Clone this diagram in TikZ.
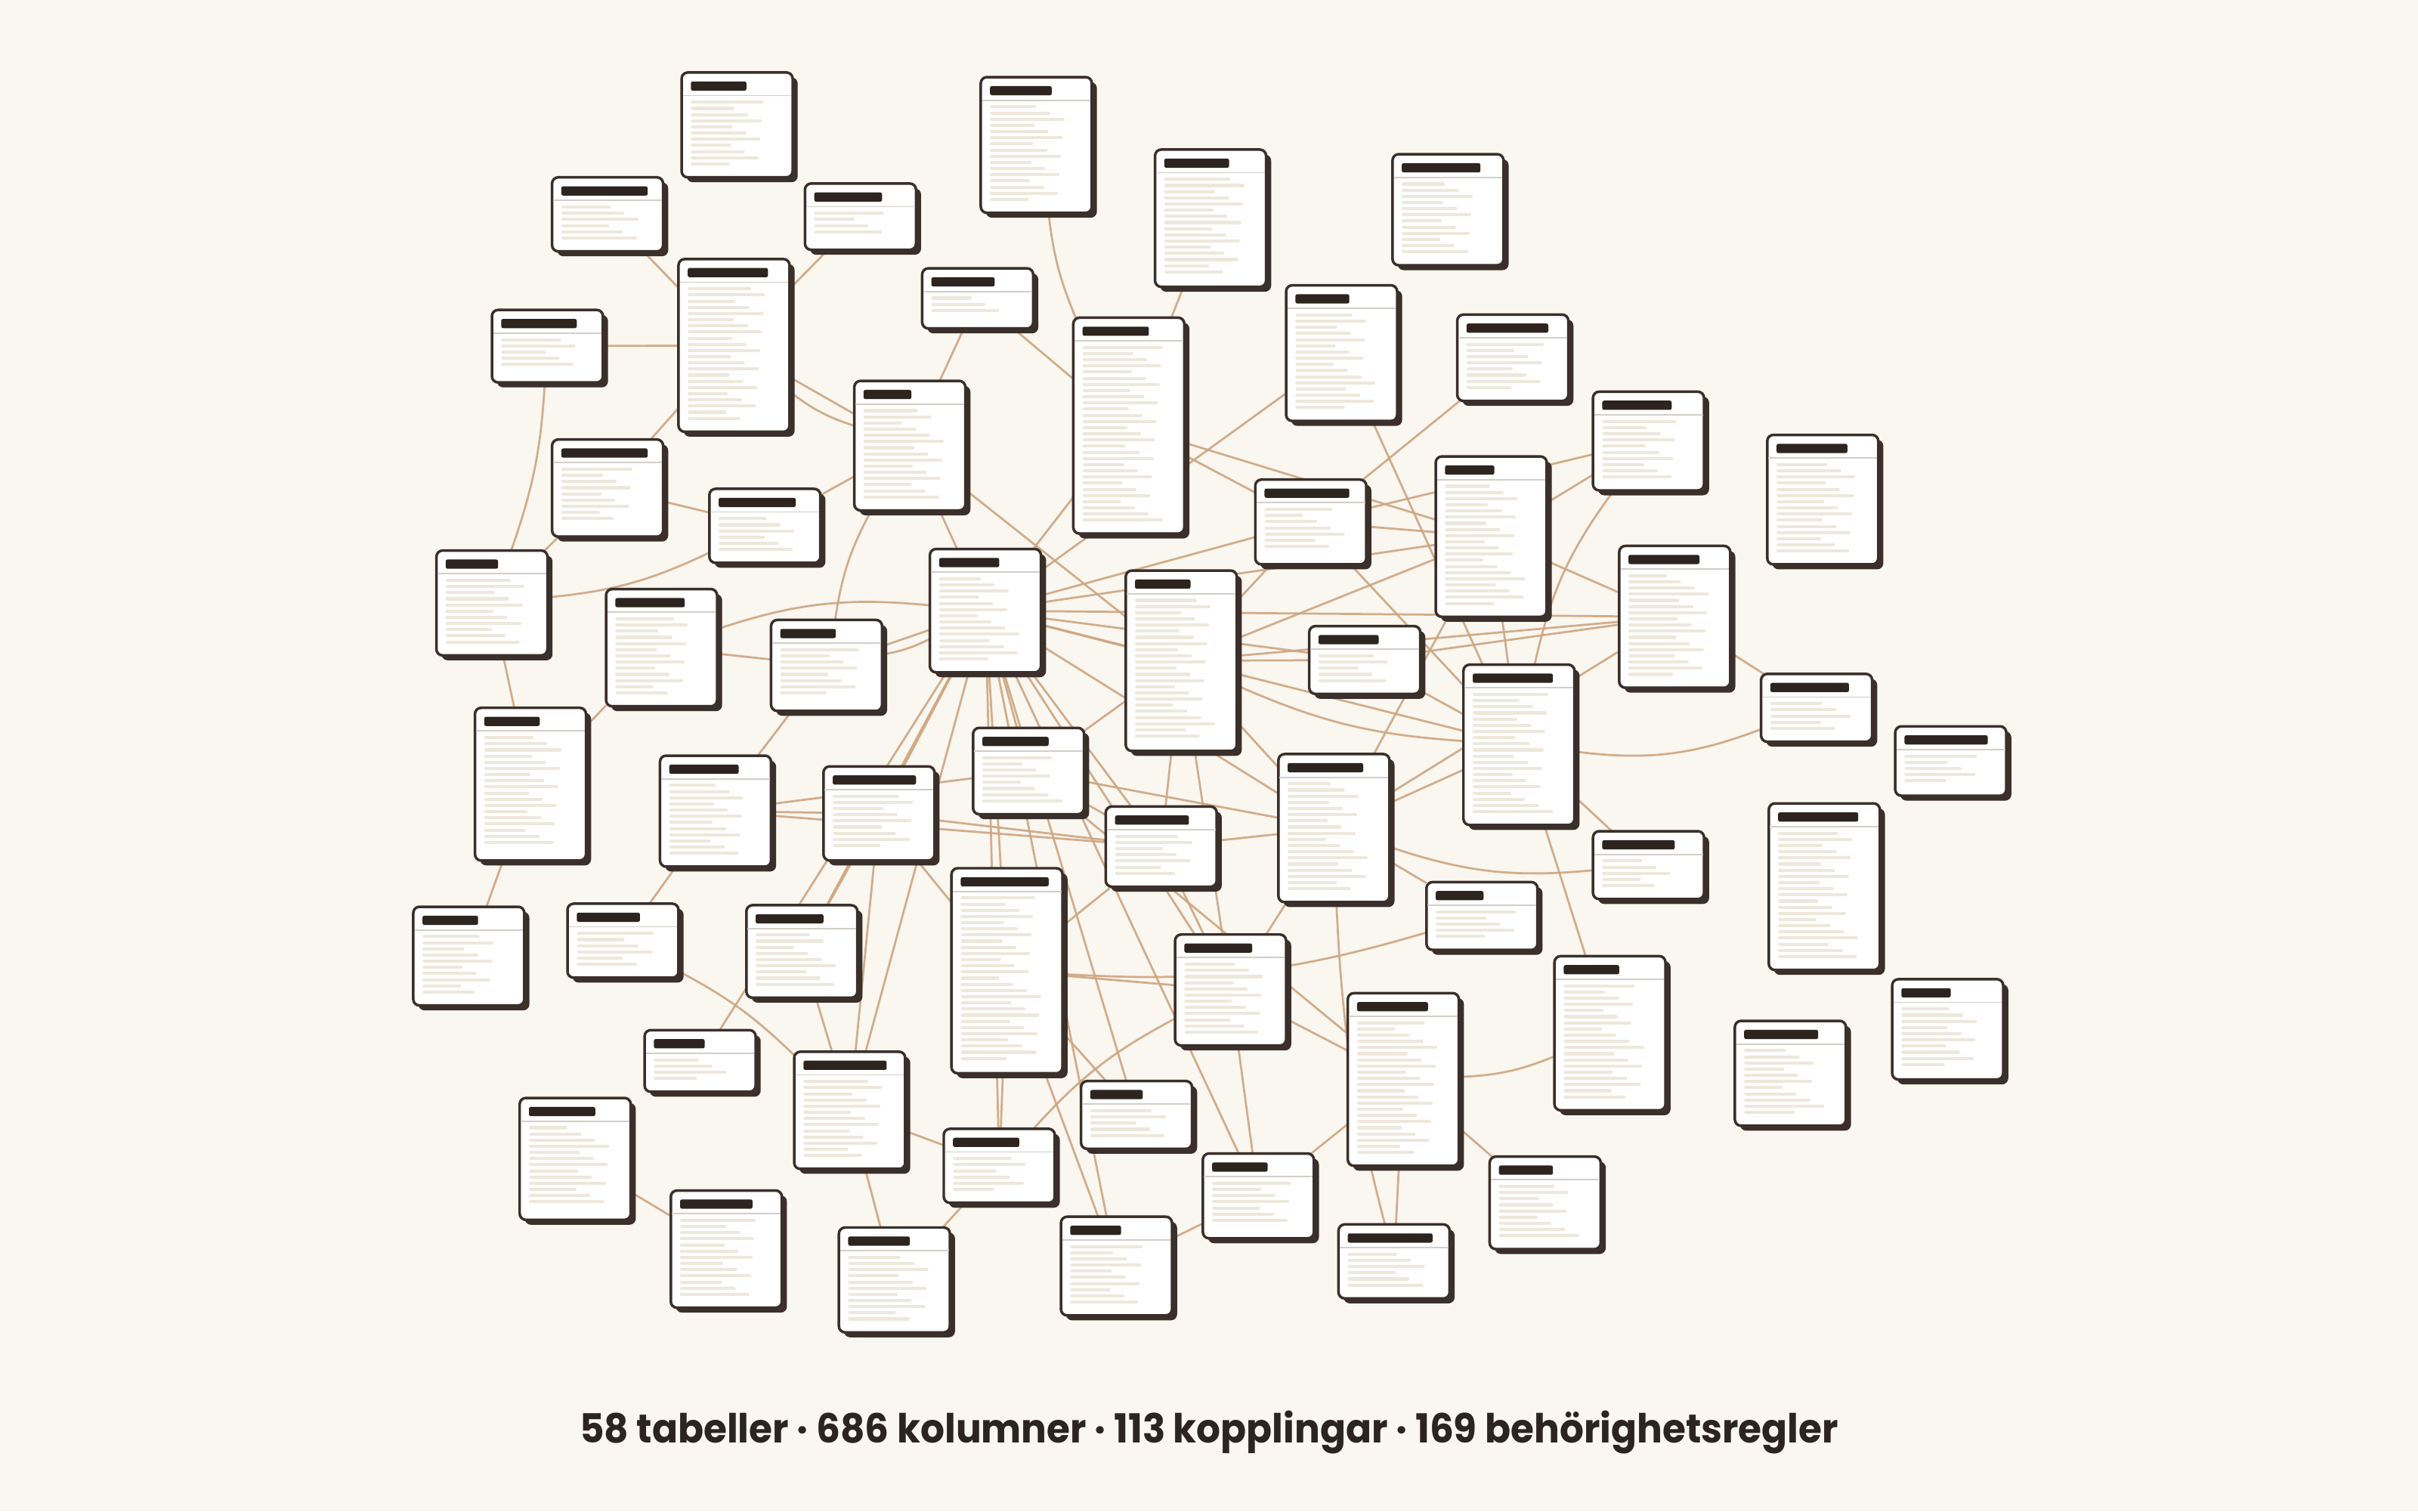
\documentclass[tikz,border=0pt]{standalone}
\usepackage{fontspec}
\newfontfamily\capfont{Poppins}
\pgfdeclarelayer{bglayer}
\pgfdeclarelayer{edgelayer}
\pgfsetlayers{bglayer,edgelayer,main}
\definecolor{bgc}{HTML}{FAF6F0}
\definecolor{ink}{HTML}{3A2F2A}
\definecolor{titlec}{HTML}{2D2420}
\definecolor{sepc}{HTML}{D3CEC8}
\definecolor{rowc}{HTML}{EEE7DC}
\definecolor{edgec}{HTML}{CDA680}
\definecolor{capc}{HTML}{2B2421}
\tikzset{
  cardbox/.style={draw=ink,fill=white,line width=1.7pt,rounded corners=4pt,
    minimum width=72pt,inner sep=0pt,outer sep=0pt,rectangle},
  shadowbox/.style={fill=ink,rounded corners=4pt},
  titlebar/.style={fill=titlec,rounded corners=1.2pt},
  sepline/.style={draw=sepc,line width=0.9pt},
  rowline/.style={draw=rowc,line width=2pt,line cap=round},
  edge/.style={draw=edgec,line width=1.35pt,draw opacity=0.9},
}
\newcommand\tcard[5]{%
  \fill[shadowbox] (#2+3.3,#3+3.2) rectangle (#2+75.3,#3+#4+3.2);
  \node[cardbox,minimum height=#4pt] (c#1) at (#2+36,#3+#4/2) {};
  \fill[titlebar] (#2+6,#3+5.8) rectangle (#2+6+#5,#3+11.8);
  \draw[sepline] (#2+0.8,#3+15) -- (#2+71.2,#3+15);
  \pgfmathtruncatemacro\nrows{floor((#4-27.3)/4)+1}%
  \foreach \i in {1,...,\nrows}{%
    \pgfmathsetmacro\len{23+mod(\i*37+#1*13,28)}%
    \draw[rowline] (#2+7,#3+15.3+\i*4) -- ++(\len,0);
  }%
}
\begin{document}
\begin{tikzpicture}[x=1pt,y=-1pt]
\begin{pgfonlayer}{bglayer}
\fill[bgc] (0,0) rectangle (1568,980);
\end{pgfonlayer}
\useasboundingbox (0,0) rectangle (1568,980);
\tcard{1}{442}{47}{68}{36}
\tcard{2}{358}{115}{48}{56}
\tcard{3}{522}{119}{43}{44}
\tcard{4}{636}{50}{88}{40}
\tcard{5}{749}{97}{89}{42}
\tcard{6}{903}{100}{72}{51}
\tcard{7}{440}{168}{112}{52}
\tcard{8}{598}{174}{39}{41}
\tcard{9}{319}{201}{47}{49}
\tcard{10}{696}{206}{140}{43}
\tcard{11}{834}{185}{88}{35}
\tcard{12}{945}{204}{56}{53}
\tcard{13}{554}{247}{84}{31}
\tcard{14}{1033}{254}{64}{45}
\tcard{15}{1146}{282}{84}{46}
\tcard{16}{358}{285}{63}{56}
\tcard{17}{460}{317}{48}{50}
\tcard{18}{814}{311}{55}{55}
\tcard{19}{931}{296}{104}{32}
\tcard{20}{283}{357}{68}{34}
\tcard{21}{603}{356}{80}{39}
\tcard{22}{730}{370}{117}{36}
\tcard{23}{1050}{354}{92}{46}
\tcard{24}{393}{382}{76}{45}
\tcard{25}{500}{402}{59}{36}
\tcard{26}{849}{406}{44}{39}
\tcard{27}{949}{431}{104}{52}
\tcard{28}{1142}{437}{44}{51}
\tcard{29}{1229}{471}{45}{54}
\tcard{30}{308}{459}{99}{36}
\tcard{31}{631}{472}{56}{43}
\tcard{32}{428}{490}{72}{45}
\tcard{33}{534}{497}{61}{54}
\tcard{34}{829}{489}{96}{49}
\tcard{35}{717}{523}{52}{48}
\tcard{36}{1033}{539}{44}{47}
\tcard{37}{1147}{521}{108}{52}
\tcard{38}{925}{572}{44}{31}
\tcard{39}{268}{588}{64}{36}
\tcard{40}{368}{586}{48}{41}
\tcard{41}{484}{587}{60}{44}
\tcard{42}{617}{563}{133}{57}
\tcard{43}{762}{606}{72}{44}
\tcard{44}{1008}{620}{100}{36}
\tcard{45}{1227}{635}{65}{32}
\tcard{46}{874}{644}{112}{46}
\tcard{47}{418}{668}{40}{33}
\tcard{48}{515}{682}{76}{54}
\tcard{49}{1125}{662}{68}{48}
\tcard{50}{701}{701}{44}{34}
\tcard{51}{337}{712}{79}{43}
\tcard{52}{612}{732}{48}{43}
\tcard{53}{780}{748}{55}{36}
\tcard{54}{966}{750}{60}{35}
\tcard{55}{435}{772}{76}{47}
\tcard{56}{544}{796}{68}{40}
\tcard{57}{688}{789}{64}{33}
\tcard{58}{868}{794}{48}{55}
\begin{pgfonlayer}{edgelayer}
\foreach \a/\b in {2/7,9/7,3/7,7/13,16/7,17/13,16/17,16/20,
  5/10,8/10,8/13,10/18,10/19,11/21,11/27,12/18,10/21,
  18/19,18/14,19/14,19/23,26/23,19/27,23/28,27/36,27/44,46/54,
  42/52,42/57,42/43,42/50,43/53,43/46,31/46,46/58,46/53,53/57,52/56,
  47/21,41/48,33/48,48/52,48/56,51/55,
  13/21,25/21,24/25,20/30,24/30,25/32,30/39,32/40,32/33,32/31,
  21/33,21/41,21/48,33/42,33/35,33/41,
  13/22,21/22,21/26,21/27,21/19,21/23,21/18,21/34,
  22/18,22/19,22/26,22/23,22/34,22/35,22/43,31/22,
  21/31,21/42,21/57,21/50,21/35,21/43,21/53,
  32/35,35/34,31/34,35/43,34/27,34/19,34/23,34/38,34/43,31/35,
  26/27,18/27,42/35,21/52}
  {\draw[edge] (c\a) -- (c\b);}
\draw[edge] (c7) to[bend right=10] (c13);
\draw[edge] (c9) to[bend left=8] (c20);
\draw[edge] (c17) to[bend left=10] (c20);
\draw[edge] (c4) to[bend right=8] (c10);
\draw[edge] (c14) to[bend right=12] (c27);
\draw[edge] (c27) to[bend right=14] (c28);
\draw[edge] (c34) to[bend right=12] (c36);
\draw[edge] (c44) to[bend left=10] (c46);
\draw[edge] (c43) to[bend right=10] (c52);
\draw[edge] (c34) to[bend right=6] (c58);
\draw[edge] (c40) to[bend left=8] (c48);
\draw[edge] (c13) to[bend right=10] (c25);
\draw[edge] (c24) to[bend left=12] (c21);
\draw[edge] (c25) to[bend right=8] (c21);
\draw[edge] (c22) to[bend right=10] (c27);
\draw[edge] (c42) to[bend right=10] (c38);
\end{pgfonlayer}
\node[font=\capfont\bfseries\fontsize{26}{30}\selectfont,text=capc,inner sep=0pt,xscale=0.945] (caption) at (784,929)
  {58 tabeller · 686 kolumner · 113 kopplingar · 169 behörighetsregler};
\end{tikzpicture}
\end{document}
